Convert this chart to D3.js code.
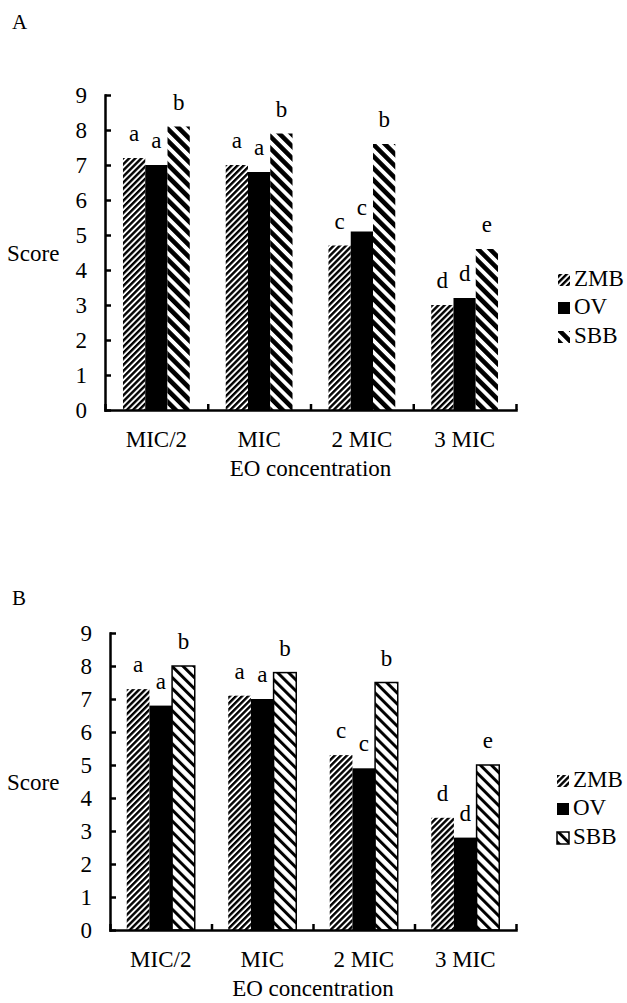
<!DOCTYPE html>
<html>
<head>
<meta charset="utf-8">
<script src="https://cdn.jsdelivr.net/npm/d3@7"></script>
<style>
  html, body { margin: 0; padding: 0; background: #fff; }
  svg { display: block; }
</style>
</head>
<body>
<script>
// Categories and series
const categories = ["MIC/2", "MIC", "2 MIC", "3 MIC"];
const seriesNames = ["ZMB", "OV", "SBB"];
const yTicks = [0, 1, 2, 3, 4, 5, 6, 7, 8, 9];

// Panel A scores
const scoreA_ZMB = [7.2, 7.0, 4.7, 3.0];
const scoreA_OV  = [7.0, 6.8, 5.1, 3.2];
const scoreA_SBB = [8.1, 7.9, 7.6, 4.6];

// Panel B scores
const scoreB_ZMB = [7.3, 7.1, 5.3, 3.4];
const scoreB_OV  = [6.8, 7.0, 4.9, 2.8];
const scoreB_SBB = [8.0, 7.8, 7.5, 5.0];

// Significance letters
const lettersA_ZMB = ["a", "a", "c", "d"];
const lettersA_OV  = ["a", "a", "c", "d"];
const lettersA_SBB = ["b", "b", "b", "e"];
const lettersB_ZMB = ["a", "a", "c", "d"];
const lettersB_OV  = ["a", "a", "c", "d"];
const lettersB_SBB = ["b", "b", "b", "e"];

const W = 627, H = 1003;
const FONT = 23;
const FAMILY = "'Liberation Serif', Tinos, 'Times New Roman', Times, 'DejaVu Serif', serif";

const svg = d3.select("body").append("svg")
  .attr("width", W).attr("height", H)
  .attr("font-family", FAMILY);
const defs = svg.append("defs");

function stripes(id, period, black, angle) {
  const p = defs.append("pattern")
    .attr("id", id)
    .attr("patternUnits", "userSpaceOnUse")
    .attr("width", period).attr("height", period)
    .attr("patternTransform", `rotate(${angle})`);
  p.append("rect").attr("width", period).attr("height", period).attr("fill", "#fff");
  p.append("rect").attr("width", black).attr("height", period).attr("fill", "#000");
}
stripes("zmb", 4.3, 2.4, 45);
stripes("sbbA", 8.4, 4.6, -45);
stripes("sbbB", 7.8, 3.0, -45);

function txt(sel) {
  return sel.style("font-family", FAMILY).style("font-size", FONT + "px").attr("fill", "#000");
}

function drawPanel(cfg) {
  const g = svg.append("g");
  const x = d3.scaleBand().domain(categories).range([cfg.x0, cfg.x1]).padding(0);
  const bw = x.bandwidth();
  const xs = d3.scaleBand().domain(seriesNames)
    .range([bw * cfg.inset, bw * (1 - cfg.inset)]).padding(0);
  const y = d3.scaleLinear().domain([0, 9]).range([cfg.y0, cfg.y1]);

  // bars and their significance letters
  seriesNames.forEach((s, si) => {
    const rows = categories.map((c, i) => ({ c, v: cfg.values[si][i], l: cfg.letters[si][i] }));
    g.append("g").selectAll("rect")
      .data(rows)
      .join("rect")
      .attr("x", d => x(d.c) + xs(s))
      .attr("y", d => y(d.v))
      .attr("width", xs.bandwidth())
      .attr("height", d => y(0) - y(d.v))
      .attr("fill", cfg.fills[si])
      .attr("stroke", cfg.strokes[si])
      .attr("stroke-width", cfg.strokes[si] === "none" ? 0 : 1.5);

    txt(g.append("g").selectAll("text")
      .data(rows)
      .join("text")
      .attr("x", d => x(d.c) + xs(s) + xs.bandwidth() / 2)
      .attr("y", d => y(d.v) - 17)
      .attr("text-anchor", "middle")
      .text(d => d.l));
  });

  // y axis
  const yAxis = g.append("g")
    .attr("transform", `translate(${cfg.x0},0)`)
    .call(d3.axisLeft(y).tickValues(yTicks).tickSizeInner(-6).tickSizeOuter(0).tickPadding(18));
  txt(yAxis.selectAll("text"));

  // x axis with ticks on category boundaries
  const xb = d3.scaleLinear().domain([0, categories.length]).range([cfg.x0, cfg.x1]);
  const xAxis = g.append("g")
    .attr("transform", `translate(0,${cfg.y0})`)
    .call(d3.axisBottom(xb).tickValues(d3.range(categories.length + 1))
      .tickSizeInner(-6).tickSizeOuter(0).tickFormat(""));
  [yAxis, xAxis].forEach(a => {
    a.select(".domain").attr("stroke", "#000").attr("stroke-width", 2.5)
      .attr("stroke-linecap", "square");
    a.selectAll(".tick line").attr("stroke", "#000").attr("stroke-width", 2.5);
  });

  // category labels
  txt(g.append("g").selectAll("text")
    .data(categories)
    .join("text")
    .attr("x", d => x(d) + bw / 2)
    .attr("y", cfg.y0 + 37)
    .attr("text-anchor", "middle")
    .text(d => d));

  // axis titles
  txt(g.append("text")
    .attr("x", (cfg.x0 + cfg.x1) / 2)
    .attr("y", cfg.y0 + 66)
    .attr("text-anchor", "middle")
    .text("EO concentration"));
  txt(g.append("text")
    .attr("x", 7)
    .attr("y", (cfg.y0 + cfg.y1) / 2 + 8)
    .text("Score"));

  // panel letter
  txt(g.append("text")
    .attr("x", 12)
    .attr("y", cfg.letterY)
    .text(cfg.name)).style("font-size", "21px");

  // legend
  const lg = g.append("g");
  seriesNames.forEach((s, si) => {
    const by = cfg.legendY[si];
    lg.append("rect")
      .attr("x", cfg.legendX).attr("y", by - 12)
      .attr("width", 12).attr("height", 12)
      .attr("fill", cfg.fills[si])
      .attr("stroke", cfg.strokes[si])
      .attr("stroke-width", cfg.strokes[si] === "none" ? 0 : 1.5);
    txt(lg.append("text")
      .attr("x", cfg.legendX + 16).attr("y", by)
      .text(s));
  });
}

drawPanel({
  name: "A", letterY: 29,
  x0: 105, x1: 516, y0: 410, y1: 95, inset: 0.175,
  values: [scoreA_ZMB, scoreA_OV, scoreA_SBB],
  letters: [lettersA_ZMB, lettersA_OV, lettersA_SBB],
  fills: ["url(#zmb)", "#000", "url(#sbbA)"],
  strokes: ["none", "none", "none"],
  legendX: 558, legendY: [286, 314, 343]
});

drawPanel({
  name: "B", letterY: 605,
  x0: 110, x1: 516, y0: 930, y1: 633, inset: 0.165,
  values: [scoreB_ZMB, scoreB_OV, scoreB_SBB],
  letters: [lettersB_ZMB, lettersB_OV, lettersB_SBB],
  fills: ["url(#zmb)", "#000", "url(#sbbB)"],
  strokes: ["none", "none", "#000"],
  legendX: 557, legendY: [787, 815, 844]
});
</script>
</body>
</html>
